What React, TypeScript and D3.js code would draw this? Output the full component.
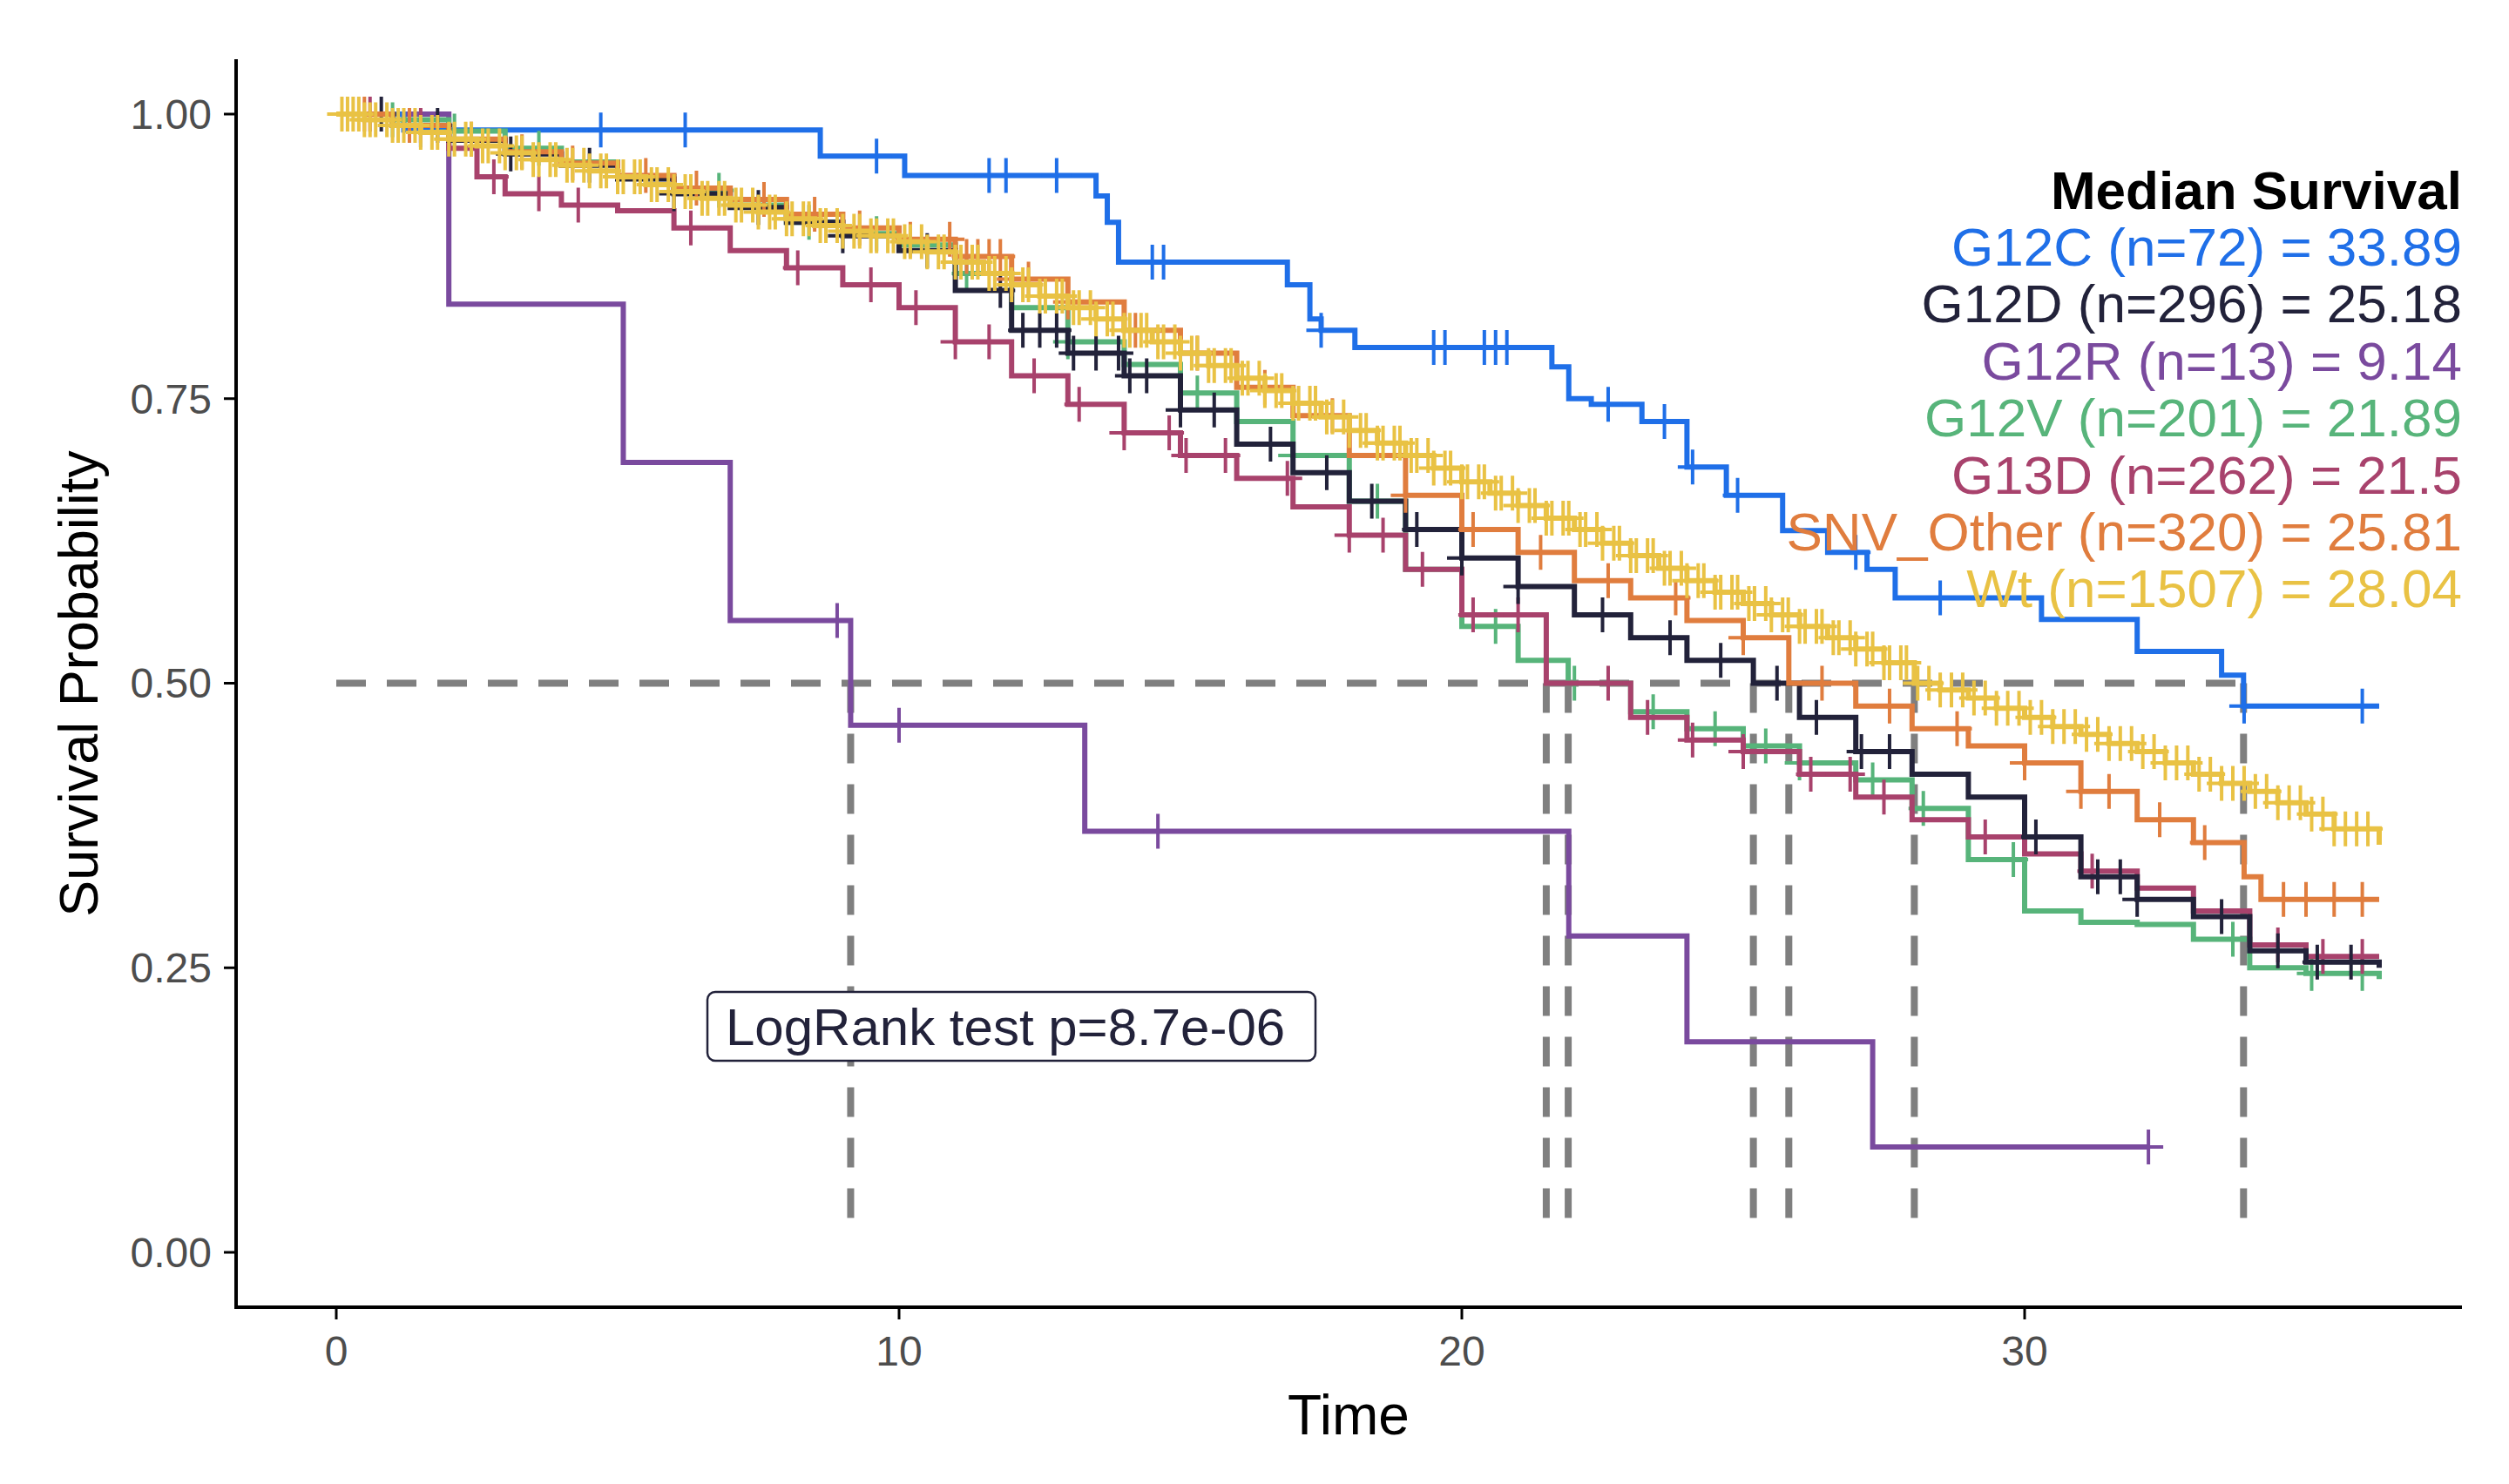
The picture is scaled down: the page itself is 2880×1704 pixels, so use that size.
import React from "react";
import * as d3 from "d3";

const W = 2880, H = 1704;
const M = { left: 271, right: 2826, top: 68, bottom: 1501 };

type Grp = { name: string; n: number; median: number; color: string; times: number[]; surv: number[]; censor: number[] };

const g12cT = [0, 1.2, 8.6, 10.1, 13.5, 13.7, 13.9, 16.9, 17.3, 17.5, 18.1, 21.6, 21.9, 22.3, 23.2, 24.0, 24.7, 25.7, 26.5, 27.2, 27.7, 30.3, 32.0, 33.5, 33.89, 36.3];
const g12cS = [1, 0.986, 0.963, 0.946, 0.928, 0.905, 0.87, 0.85, 0.82, 0.81, 0.795, 0.778, 0.75, 0.745, 0.73, 0.69, 0.665, 0.634, 0.615, 0.6, 0.575, 0.556, 0.528, 0.507, 0.48, 0.48];
const g12cC = [1.5, 4.7, 6.2, 9.6, 11.6, 11.9, 12.8, 14.5, 14.7, 17.5, 19.5, 19.7, 20.4, 20.6, 20.8, 22.6, 23.6, 24.1, 24.9, 27.0, 28.5, 33.9, 36.0];

const g12rT = [0, 2.0, 5.1, 7.0, 9.14, 13.3, 21.9, 24.0, 27.3, 32.2];
const g12rS = [1, 0.833, 0.694, 0.555, 0.463, 0.37, 0.278, 0.185, 0.0926, 0.0926];
const g12rC = [8.9, 10.0, 14.6, 32.2];

const wtT = [0, 0.5, 1, 1.5, 2, 2.5, 3, 3.5, 4, 4.5, 5, 5.5, 6, 6.5, 7, 7.5, 8, 8.5, 9, 9.5, 10, 10.5, 11, 11.5, 12, 12.5, 13, 13.5, 14, 14.5, 15, 15.5, 16, 16.5, 17, 17.5, 18, 18.5, 19, 19.5, 20, 20.5, 21, 21.5, 22, 22.5, 23, 23.5, 24, 24.5, 25, 25.5, 26, 26.5, 27, 27.5, 28.04, 28.5, 29, 29.5, 30, 30.5, 31, 31.5, 32, 32.5, 33, 33.5, 34, 34.5, 35, 35.5, 36.3];
const wtS = [1, 0.995, 0.99, 0.984, 0.978, 0.972, 0.966, 0.96, 0.955, 0.95, 0.945, 0.938, 0.932, 0.926, 0.92, 0.914, 0.908, 0.902, 0.897, 0.893, 0.888, 0.879, 0.87, 0.86, 0.85, 0.84, 0.83, 0.82, 0.81, 0.8, 0.79, 0.779, 0.768, 0.757, 0.746, 0.734, 0.722, 0.711, 0.7, 0.689, 0.677, 0.667, 0.656, 0.645, 0.635, 0.623, 0.612, 0.601, 0.59, 0.58, 0.57, 0.56, 0.55, 0.54, 0.53, 0.518, 0.5, 0.494, 0.487, 0.478, 0.47, 0.462, 0.455, 0.447, 0.44, 0.43, 0.42, 0.412, 0.405, 0.395, 0.385, 0.372, 0.358];
const wtC = [0.1, 0.2, 0.3, 0.4, 0.5, 0.6, 0.7, 0.9, 1.0, 1.1, 1.2, 1.4, 1.5, 1.7, 1.8, 2.0, 2.1, 2.3, 2.4, 2.6, 2.7, 2.9, 3.0, 3.2, 3.3, 3.5, 3.6, 3.8, 3.9, 4.1, 4.2, 4.4, 4.5, 4.7, 4.8, 5.0, 5.1, 5.3, 5.4, 5.6, 5.7, 5.9, 6.0, 6.2, 6.3, 6.5, 6.6, 6.8, 6.9, 7.1, 7.2, 7.4, 7.5, 7.7, 7.8, 8.0, 8.1, 8.3, 8.4, 8.6, 8.7, 8.9, 9.0, 9.2, 9.3, 9.5, 9.6, 9.8, 9.9, 10.1, 10.2, 10.4, 10.5, 10.7, 10.8, 11.0, 11.1, 11.3, 11.4, 11.6, 11.7, 11.9, 12.0, 12.2, 12.3, 12.5, 12.6, 12.8, 12.9, 13.1, 13.2, 13.4, 13.5, 13.7, 13.8, 14.0, 14.1, 14.3, 14.4, 14.6, 14.7, 14.9, 15.0, 15.2, 15.3, 15.5, 15.6, 15.8, 15.9, 16.1, 16.2, 16.4, 16.5, 16.7, 16.8, 17.0, 17.1, 17.3, 17.4, 17.6, 17.7, 17.9, 18.0, 18.2, 18.3, 18.5, 18.6, 18.8, 18.9, 19.1, 19.2, 19.4, 19.5, 19.7, 19.8, 20.0, 20.1, 20.3, 20.4, 20.6, 20.7, 20.9, 21.0, 21.2, 21.3, 21.5, 21.6, 21.8, 21.9, 22.1, 22.2, 22.4, 22.5, 22.7, 22.8, 23.0, 23.1, 23.3, 23.4, 23.6, 23.7, 23.9, 24.0, 24.2, 24.3, 24.5, 24.6, 24.8, 24.9, 25.1, 25.2, 25.4, 25.5, 25.7, 25.8, 26.0, 26.1, 26.3, 26.4, 26.6, 26.7, 26.9, 27.0, 27.2, 27.3, 27.5, 27.6, 27.8, 27.9, 28.1, 28.3, 28.5, 28.7, 28.9, 29.1, 29.3, 29.5, 29.7, 29.9, 30.1, 30.3, 30.5, 30.7, 30.9, 31.1, 31.3, 31.5, 31.7, 31.9, 32.1, 32.3, 32.5, 32.7, 32.9, 33.1, 33.3, 33.5, 33.7, 33.9, 34.1, 34.3, 34.5, 34.7, 34.9, 35.1, 35.3, 35.5, 35.7, 35.9, 36.1];

const snvT = [0, 1, 2, 3, 4, 5, 6, 7, 8, 9, 10, 11, 12, 13, 14, 15, 16, 17, 18, 19, 20, 21, 22, 23, 24, 25, 25.81, 27, 28, 29, 30, 31, 32, 33, 33.9, 34.2, 36.3];
const snvS = [1, 0.99, 0.978, 0.967, 0.957, 0.946, 0.935, 0.925, 0.912, 0.9, 0.89, 0.875, 0.855, 0.835, 0.81, 0.79, 0.76, 0.735, 0.7, 0.665, 0.635, 0.615, 0.59, 0.575, 0.555, 0.54, 0.5, 0.48, 0.46, 0.445, 0.43, 0.405, 0.38, 0.36, 0.33, 0.31, 0.31];
const snvC = [0.5, 1.3, 2.4, 3.3, 4.2, 5.5, 6.4, 7.6, 8.5, 9.3, 10.2, 10.9, 11.2, 11.4, 11.6, 11.8, 12.0, 12.3, 13.0, 14.2, 15.3, 16.5, 17.7, 19.0, 20.2, 21.4, 22.6, 23.8, 25.0, 26.4, 27.6, 28.8, 30.0, 31.0, 31.5, 32.4, 33.2, 34.6, 35.0, 35.5, 36.0];

const g12dT = [0, 1, 2, 3, 4, 5, 6, 7, 8, 9, 10, 11, 12, 13, 14, 15, 16, 17, 18, 19, 20, 21, 22, 23, 24, 25.18, 26, 27, 28, 29, 30, 31, 32, 33, 34, 35, 36.3];
const g12dS = [1, 0.99, 0.977, 0.965, 0.955, 0.943, 0.93, 0.918, 0.905, 0.893, 0.88, 0.845, 0.81, 0.79, 0.77, 0.74, 0.71, 0.685, 0.66, 0.635, 0.61, 0.585, 0.56, 0.54, 0.52, 0.5, 0.47, 0.44, 0.42, 0.4, 0.365, 0.33, 0.31, 0.295, 0.265, 0.255, 0.25];
const g12dC = [0.8, 1.8, 3.1, 4.5, 6.0, 7.5, 9.0, 10.5, 11.8, 12.2, 12.5, 12.8, 13.1, 13.5, 13.9, 14.1, 14.4, 15.0, 15.6, 16.6, 17.6, 18.4, 19.2, 20.0, 21.0, 22.5, 23.7, 24.6, 25.6, 26.3, 27.1, 27.6, 30.2, 31.3, 31.7, 32.0, 33.5, 34.5, 35.2, 35.8];

const g12vT = [0, 1, 2, 3, 4, 5, 6, 7, 8, 9, 10, 11, 12, 13, 14, 15, 16, 17, 18, 19, 20, 21, 21.89, 23, 24, 25, 26, 27, 28, 29, 30, 31, 32, 33, 34, 35, 36.3];
const g12vS = [1, 0.995, 0.985, 0.97, 0.958, 0.945, 0.933, 0.92, 0.905, 0.895, 0.885, 0.86, 0.83, 0.8, 0.78, 0.755, 0.73, 0.7, 0.66, 0.6, 0.55, 0.52, 0.5, 0.475, 0.46, 0.445, 0.43, 0.415, 0.39, 0.345, 0.3, 0.29, 0.288, 0.275, 0.25, 0.245, 0.24];
const g12vC = [1.0, 2.1, 3.6, 5.0, 6.8, 8.4, 9.6, 11.2, 13.0, 15.3, 17.0, 18.5, 20.6, 22.0, 23.4, 24.5, 25.4, 26.0, 27.3, 28.2, 29.8, 33.7, 35.1, 36.0];

const g13dT = [0, 1, 2, 2.5, 3, 4, 5, 6, 7, 8, 9, 10, 11, 12, 13, 14, 15, 16, 17, 18, 19, 20, 21.5, 23, 24, 25, 26, 27, 28, 29, 30, 31, 32, 33, 34, 35, 36.3];
const g13dS = [1, 0.99, 0.97, 0.945, 0.93, 0.92, 0.915, 0.9, 0.88, 0.865, 0.85, 0.83, 0.8, 0.77, 0.745, 0.72, 0.7, 0.68, 0.655, 0.63, 0.6, 0.56, 0.5, 0.47, 0.45, 0.44, 0.42, 0.4, 0.38, 0.365, 0.35, 0.335, 0.32, 0.3, 0.27, 0.26, 0.26];
const g13dC = [0.6, 1.5, 2.8, 3.6, 4.3, 6.3, 8.2, 9.5, 10.3, 11.0, 11.6, 12.4, 13.2, 14.0, 14.8, 15.1, 15.8, 16.9, 18.0, 18.6, 19.3, 20.2, 21.0, 22.6, 23.3, 24.1, 25.0, 26.2, 26.9, 27.5, 29.3, 31.2, 34.5, 35.3, 36.0];

const groups: Grp[] = [
  { name: "G12C", n: 72, median: 33.89, color: "#1f6fe8", times: g12cT, surv: g12cS, censor: g12cC },
  { name: "G12D", n: 296, median: 25.18, color: "#22223a", times: g12dT, surv: g12dS, censor: g12dC },
  { name: "G12R", n: 13, median: 9.14, color: "#7a4a9e", times: g12rT, surv: g12rS, censor: g12rC },
  { name: "G12V", n: 201, median: 21.89, color: "#57b47a", times: g12vT, surv: g12vS, censor: g12vC },
  { name: "G13D", n: 262, median: 21.5, color: "#a8426c", times: g13dT, surv: g13dS, censor: g13dC },
  { name: "SNV_Other", n: 320, median: 25.81, color: "#e07d3e", times: snvT, surv: snvS, censor: snvC },
  { name: "Wt", n: 1507, median: 28.04, color: "#e9c244", times: wtT, surv: wtS, censor: wtC },
];
const drawOrder = ["G12R", "G12C", "G12V", "G13D", "G12D", "SNV_Other", "Wt"];
const xTicks = [0, 10, 20, 30];
const yTicks = [0, 0.25, 0.5, 0.75, 1];
const pText = "LogRank test p=8.7e-06";

const x = d3.scaleLinear().domain([0, 10]).range([386, 1032]);
const y = d3.scaleLinear().domain([0, 1]).range([1438, 131]);
const font = "'Liberation Sans', Arimo, Helvetica, Arial, sans-serif";

function sAt(g: Grp, t: number) {
  let s = g.surv[0];
  for (let i = 0; i < g.times.length; i++) if (g.times[i] <= t) s = g.surv[i];
  return s;
}

export default function App() {
  const line = d3.line<[number, number]>().x(d => x(d[0])).y(d => y(d[1])).curve(d3.curveStepAfter);
  const meds = groups.map(g => g.median);
  const maxMed = d3.max(meds)!;
  return (
    <svg width={W} height={H} style={{ position: "absolute", left: 0, top: 0, background: "#fff" }} fontFamily={font}>
      <g stroke="#7f7f7f" strokeWidth={8} strokeDasharray="34,24" fill="none">
        <line x1={x(0)} x2={x(maxMed)} y1={y(0.5)} y2={y(0.5)} />
        {meds.map((m, i) => <line key={i} x1={x(m)} x2={x(m)} y1={y(0.5)} y2={y(0.023)} />)}
      </g>
      {drawOrder.map(nm => {
        const g = groups.find(q => q.name === nm)!;
        const pts = g.times.map((t, i) => [t, g.surv[i]] as [number, number]);
        return (
          <g key={nm} stroke={g.color} fill="none">
            <path d={line(pts)!} strokeWidth={6} />
            {g.censor.map((c, i) => {
              const cx = x(c), cy = y(sAt(g, c));
              return <path key={i} d={`M${cx - 17},${cy}H${cx + 17}M${cx},${cy - 20}V${cy + 20}`} strokeWidth={4} />;
            })}
          </g>
        );
      })}
      <g stroke="#000" strokeWidth={4}>
        <line x1={M.left} x2={M.left} y1={M.top} y2={M.bottom + 2} />
        <line x1={M.left - 2} x2={M.right} y1={M.bottom} y2={M.bottom} />
        {yTicks.map(t => <line key={t} x1={M.left - 14} x2={M.left} y1={y(t)} y2={y(t)} strokeWidth={3} />)}
        {xTicks.map(t => <line key={t} x1={x(t)} x2={x(t)} y1={M.bottom} y2={M.bottom + 14} strokeWidth={3} />)}
      </g>
      <g fill="#4d4d4d" fontSize={48}>
        {yTicks.map(t => <text key={t} x={M.left - 28} y={y(t)} dy="0.35em" textAnchor="end">{t.toFixed(2)}</text>)}
        {xTicks.map(t => <text key={t} x={x(t)} y={1568} textAnchor="middle">{t}</text>)}
      </g>
      <text x={1548} y={1647} fontSize={64} textAnchor="middle" fill="#000">Time</text>
      <text transform={`translate(112,785) rotate(-90)`} fontSize={63} textAnchor="middle" fill="#000">Survival Probability</text>
      <rect x={812} y={1139} width={698} height={79} rx={9} fill="#fff" stroke="#22223a" strokeWidth={2.5} />
      <text x={833} y={1200} fontSize={60} fill="#22223a">{pText}</text>
      <g textAnchor="end" fontSize={62}>
        <text x={2826} y={240} fontWeight="bold" fill="#000">Median Survival</text>
        {groups.map((g, i) => (
          <text key={g.name} x={2826} y={305 + i * 65.4} fill={g.color}>{`${g.name} (n=${g.n}) = ${g.median}`}</text>
        ))}
      </g>
    </svg>
  );
}
